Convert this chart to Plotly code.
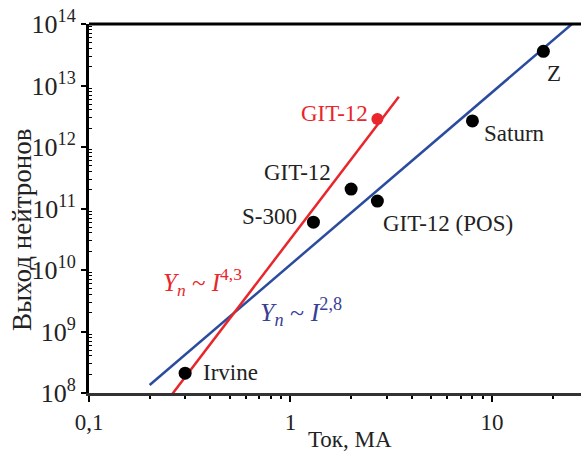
import numpy as np
import plotly.graph_objects as go

# Data points (current in MA, neutron yield)
names = ["Irvine", "S-300", "GIT-12", "GIT-12 (POS)", "Saturn", "Z"]
current = [0.3, 1.3, 2.0, 2.7, 8.0, 18.0]
yield_n = [2.1e8, 6.0e10, 2.07e11, 1.32e11, 2.65e12, 3.6e13]

red_name = "GIT-12"
red_current = [2.7]
red_yield = [2.85e12]

# Fit lines
blue_I = [0.2, 26.0]
blue_Y = [1.35e8, 1.35e8 * (26.0 / 0.2) ** 2.8]
red_I = [0.255, 3.45]
red_Y = [0.9e8, 0.9e8 * (3.45 / 0.255) ** 4.3]

x_tickvals = [0.1, 1, 10]
x_ticktext = ["0,1", "1", "10"]
y_tickvals = [1e8, 1e9, 1e10, 1e11, 1e12, 1e13, 1e14]
y_ticktext = ["10<sup>%d</sup>" % e for e in range(8, 15)]

RED = "#e8262b"
BLUE = "#2b4b9f"
FONT = "Liberation Serif"
TXT = "#222222"

fig = go.Figure()
fig.add_trace(go.Scatter(x=blue_I, y=blue_Y, mode="lines",
                         line=dict(color=BLUE, width=2.5), showlegend=False))
fig.add_trace(go.Scatter(x=red_I, y=red_Y, mode="lines",
                         line=dict(color=RED, width=2.5), showlegend=False))
fig.add_trace(go.Scatter(x=current, y=yield_n, mode="markers",
                         marker=dict(color="black", size=13), showlegend=False))
fig.add_trace(go.Scatter(x=red_current, y=red_yield, mode="markers",
                         marker=dict(color=RED, size=12), showlegend=False))

# point labels: (xanchor, xshift, yshift)
label_pos = {
    "Irvine": ("left", 16, 1),
    "S-300": ("right", -14, 6),
    "GIT-12": ("right", -18, 17),
    "GIT-12 (POS)": ("left", 4, -22),
    "Saturn": ("left", 10, -13),
    "Z": ("left", 2, -22),
}
for n, xv, yv in zip(names, current, yield_n):
    xa, xs, ys = label_pos[n]
    fig.add_annotation(x=np.log10(xv), y=np.log10(yv), text=n, showarrow=False,
                       xanchor=xa, yanchor="middle", xshift=xs, yshift=ys,
                       font=dict(family=FONT, size=23, color=TXT))
fig.add_annotation(x=np.log10(red_current[0]), y=np.log10(red_yield[0]), text=red_name,
                   showarrow=False, xanchor="right", yanchor="middle", xshift=-7, yshift=6,
                   font=dict(family=FONT, size=23, color=RED))

fig.add_annotation(x=(161 - 89) / 492, y=(393 - 282) / 369, xref="paper", yref="paper",
                   text="<i>Y<sub>n</sub></i> ~ <i>I</i><sup>4,3</sup>", showarrow=False,
                   xanchor="left", yanchor="middle",
                   font=dict(family=FONT, size=25, color=RED))
fig.add_annotation(x=(258 - 89) / 492, y=(393 - 312) / 369, xref="paper", yref="paper",
                   text="<i>Y<sub>n</sub></i> ~ <i>I</i><sup>2,8</sup>", showarrow=False,
                   xanchor="left", yanchor="middle",
                   font=dict(family=FONT, size=26, color="#3a3f95"))

# axis titles
fig.add_annotation(x=(22 - 89) / 492, y=(393 - 230) / 369, xref="paper", yref="paper",
                   text="Выход нейтронов", textangle=-90, showarrow=False,
                   xanchor="center", yanchor="middle",
                   font=dict(family=FONT, size=27, color=TXT))
fig.add_annotation(x=(350 - 89) / 492, y=(393 - 439) / 369, xref="paper", yref="paper",
                   text="Ток, МА", showarrow=False, xanchor="center", yanchor="middle",
                   font=dict(family=FONT, size=23, color=TXT))

x_minor = [m * 10.0 ** e for e in (-1, 0, 1) for m in range(2, 10)]
y_minor = [m * 10.0 ** e for e in range(8, 14) for m in range(2, 10)]

fig.update_xaxes(type="log", range=[-1, 1.442], tickvals=x_tickvals, ticktext=x_ticktext,
                 automargin=False,
                 showgrid=False, zeroline=False, showline=True, linewidth=3,
                 linecolor="#333333", mirror=False, ticks="outside", ticklen=6,
                 tickwidth=1.5, tickcolor="black",
                 tickfont=dict(family=FONT, size=23, color=TXT),
                 minor=dict(tickmode="array", tickvals=x_minor, ticks="outside",
                            ticklen=3, tickwidth=1.5, tickcolor="black", showgrid=False))
fig.update_yaxes(type="log", range=[8, 14], tickvals=y_tickvals, ticktext=y_ticktext,
                 automargin=False,
                 showgrid=False, zeroline=False, showline=True, linewidth=3,
                 linecolor="black", mirror=False, ticks="outside", ticklen=5,
                 tickwidth=1.5, tickcolor="black",
                 tickfont=dict(family=FONT, size=26, color=TXT),
                 minor=dict(tickmode="array", tickvals=y_minor, ticks="inside",
                            ticklen=3, tickwidth=1, tickcolor="black", showgrid=False))

# top border line
fig.add_shape(type="line", xref="paper", yref="paper", x0=0, x1=1, y0=1, y1=1,
              line=dict(color="black", width=3))

fig.update_layout(width=581, height=453, margin=dict(l=89, r=0, t=24, b=60),
                  plot_bgcolor="white", paper_bgcolor="white")
fig.write_html("out.html", config={"displayModeBar": False},
               post_script="document.body.style.margin='0';document.body.style.overflow='hidden';")
